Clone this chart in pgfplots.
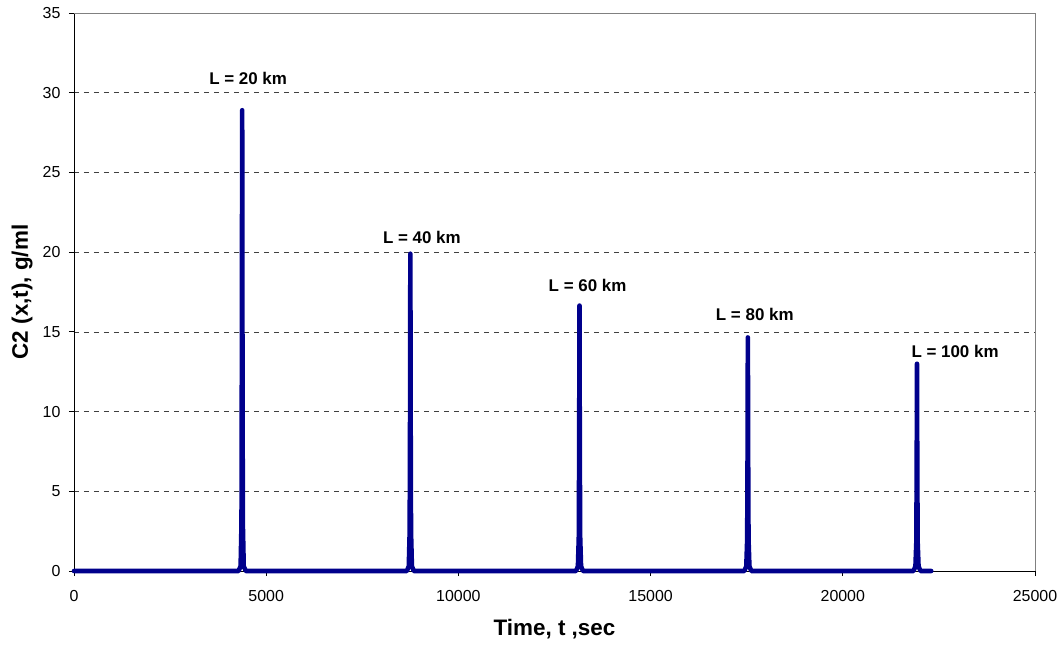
\documentclass[border=0pt]{standalone}
\usepackage{pgfplots}
\pgfplotsset{compat=1.18}
\usepackage{fontspec}
\setmainfont{Liberation Sans}
\definecolor{navy}{RGB}{0,0,140}
\begin{document}
\begin{tikzpicture}
\begin{axis}[
  scale only axis, width=961bp, height=558bp,
  xmin=0, xmax=25000, ymin=0, ymax=35,
  axis lines*=left,
  axis line style={black, line width=0.9pt},
  xtick={0,5000,...,25000}, ytick={0,5,...,35},
  scaled ticks=false,
  /pgf/number format/assume math mode=true,
  /pgf/number format/set thousands separator={},
  tick align=outside, major tick length=5bp,
  tick style={black, line width=0.8pt},
  ymajorgrids, grid style={dash pattern=on 5bp off 5bp, black!75, line width=0.7pt},
  ticklabel style={font=\fontsize{16}{18}\selectfont},
  xticklabel style={yshift=-11bp},
  yticklabel style={xshift=-5bp},
  xlabel={\textbf{Time, t ,sec}},
  ylabel={\textbf{C2 (x,t), g/ml}},
  label style={font=\fontsize{22.5}{24}\selectfont},
  xlabel style={at={(rel axis cs:0.5,-0.104)}, anchor=center},
  ylabel style={at={(rel axis cs:-0.0541,0.5)}, anchor=center},
  clip=false,
]
\coordinate (bl) at (rel axis cs:0,0);
\coordinate (tr) at (rel axis cs:1,1);
\draw[gray, line width=0.8pt] (rel axis cs:0,1) -- (rel axis cs:1,1) -- (rel axis cs:1,0);
\addplot[navy, line width=4.6bp, line join=round, line cap=round] coordinates {
(0,0) (4280,0) (4335,0.3) (4358,3) (4368,15) (4375,28.9) (4382,15) (4392,3) (4415,0.3) (4470,0)
(8660,0) (8710,0.3) (8733,2.5) (8743,10) (8750,19.9) (8757,10) (8767,2.5) (8790,0.3) (8840,0)
(13060,0) (13110,0.3) (13133,2.2) (13143,8.5) (13150,16.65) (13157,8.5) (13167,2.2) (13190,0.3) (13240,0)
(17440,0) (17490,0.3) (17513,2) (17523,7.5) (17530,14.65) (17537,7.5) (17547,2) (17570,0.3) (17620,0)
(21840,0) (21890,0.3) (21913,1.8) (21923,6.5) (21930,13.0) (21937,6.5) (21947,1.8) (21970,0.3) (22020,0)
(22300,0)
};
\node[font=\bfseries\fontsize{17}{19}\selectfont] at (axis cs:4530,30.9) {L = 20 km};
\node[font=\bfseries\fontsize{17}{19}\selectfont] at (axis cs:9050,20.9) {L = 40 km};
\node[font=\bfseries\fontsize{17}{19}\selectfont] at (axis cs:13360,17.9) {L = 60 km};
\node[font=\bfseries\fontsize{17}{19}\selectfont] at (axis cs:17710,16.1) {L = 80 km};
\node[font=\bfseries\fontsize{17}{19}\selectfont] at (axis cs:22920,13.8) {L = 100 km};
\end{axis}
\pgfresetboundingbox
\path ([shift={(-74bp,-75bp)}]bl) rectangle ([shift={(28bp,13bp)}]tr);
\end{tikzpicture}
\end{document}
